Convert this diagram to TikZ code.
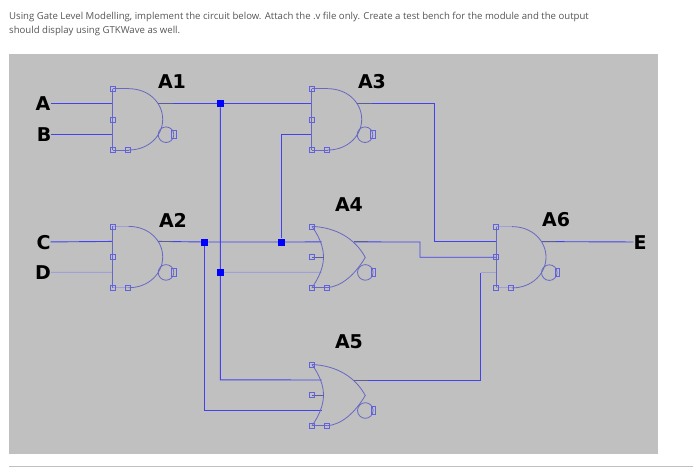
\documentclass[tikz,border=0pt]{standalone}
\usepackage{fontspec}
\setmainfont{Open Sans}
\newfontfamily\lblfont{DejaVu Sans}[BoldFont={DejaVu Sans Bold}]
\usetikzlibrary{backgrounds}
\definecolor{wireblue}{RGB}{66,66,238}
\definecolor{gatecol}{RGB}{104,104,196}
\definecolor{faintcol}{RGB}{160,160,214}
\definecolor{stubcol}{RGB}{92,92,150}
\definecolor{panel}{RGB}{192,192,192}
\definecolor{bodytext}{RGB}{85,85,85}
\tikzset{
  x=1pt,y=-1pt,
  wire/.style={draw=wireblue,line width=0.9pt},
  faintwire/.style={draw=faintcol,line width=0.9pt},
  gateline/.style={draw=gatecol,line width=0.8pt},
  handle/.style={draw=wireblue!75!panel,line width=0.7pt,fill=none},
  junction/.style={fill=blue,draw=none,minimum size=7pt,inner sep=0pt,rectangle},
  sig/.style={font=\lblfont\bfseries\fontsize{19}{19}\selectfont,text=black,inner sep=0pt,text height=14pt,text depth=0pt},
  gatename/.style={font=\lblfont\bfseries\fontsize{19}{19}\selectfont,text=black,inner sep=0pt},
  body/.style={font=\fontsize{9.6}{12}\selectfont,text=bodytext,inner sep=0pt,anchor=base west},
}
% common parts: #1 name, output x offset on the curve
\newcommand{\gatehandles}{%
  \draw[handle] (-2.5,-2.5) rectangle (2.5,2.5);
  \draw[handle] (-2.5,28.2) rectangle (2.5,33.2);
  \draw[handle] (-2.5,58.8) rectangle (2.5,63.8);
  \draw[handle] (12.5,58.8) rectangle (17.5,63.8);
  \draw[gateline] (53.3,46) circle (7.8);
  \draw[handle] (59,42) rectangle (63.5,50);
}
% #1 name, #2 x, #3 y, #4 style of the straight top and bottom edges
\newcommand{\andgate}[4]{%
  \begin{scope}[shift={(#2,#3)}]
    \draw[gateline] (0,0) -- (0,61.3);
    \draw[#4] (0,0) -- (16,0);
    \draw[#4] (0,61.3) -- (16,61.3);
    \draw[gateline] (16,0) .. controls (36,0) and (50,14) .. (50,30.6)
      .. controls (50,47) and (36,61.3) .. (16,61.3);
    \gatehandles
    \draw[draw=stubcol,line width=0.9pt] (45.5,15) -- (60,15);
    \coordinate (#1i1) at (0,15);
    \coordinate (#1i2) at (0,46);
    \coordinate (#1i3) at (0,30.6);
    \coordinate (#1o) at (46,15);
  \end{scope}}
\newcommand{\orgate}[3]{%
  \begin{scope}[shift={(#2,#3)}]
    \draw[gateline] (0,0) .. controls (7,10) and (11.5,20) .. (11.5,30.6)
      .. controls (11.5,41) and (7,51) .. (0,61.3);
    \draw[gateline] (0,0) .. controls (24,1) and (43,12) .. (53.3,31)
      .. controls (43,48) and (30,60) .. (15,61.3);
    \draw[gateline] (0,61.3) -- (15,61.3);
    \draw[draw=stubcol,line width=0.9pt] (0,30.6) -- (11.5,30.6);
    \gatehandles
    \draw[draw=stubcol,line width=0.9pt] (42,15.5) -- (56,15.5);
    \coordinate (#1i1) at (9.5,15.5);
    \coordinate (#1i2) at (9.5,46);
    \coordinate (#1o) at (42,15.5);
  \end{scope}}
\begin{document}
\begin{tikzpicture}
\useasboundingbox (0,0) rectangle (693,467);
% gates
\andgate{aa}{112.7}{88.7}{gateline}
\andgate{ab}{112.7}{226.4}{faintwire}
\andgate{ac}{311.7}{88.7}{gateline}
\orgate{ad}{312}{226.4}
\orgate{ae}{312}{364.5}
\andgate{af}{496}{226.6}{faintwire}
% terminals
\node[sig] (A) at (43,103.7) {A};
\node[sig] (B) at (44,134.7) {B};
\node[sig] (C) at (43.5,242) {C};
\node[sig] (D) at (43,272.3) {D};
\node[sig] (E) at (640,242) {E};
% junctions
\node[junction] (j1) at (220.3,103.7) {};
\node[junction] (j2) at (204.7,242) {};
\node[junction] (j3) at (220.3,272.3) {};
\node[junction] (j4) at (281.5,242) {};
\coordinate (c1) at (220.3,379.8);
\coordinate (c2) at (204.7,410.5);
\coordinate (c3) at (281.5,134.7);
\coordinate (c4) at (434.7,103.7);
\coordinate (c5) at (434.7,241.6);
\coordinate (c6) at (420,242);
\coordinate (c7) at (420,257.2);
\coordinate (c8) at (480.7,272.6);
\coordinate (c9) at (480.7,380);
% gate names
\node[gatename] (na) at (172,82) {A1};
\node[gatename] (nb) at (173,220) {A2};
\node[gatename] (nc) at (372,82) {A3};
\node[gatename] (nd) at (349,205) {A4};
\node[gatename] (ne) at (349,342) {A5};
\node[gatename] (nf) at (556,220) {A6};
% page text
\node[body] (t1) at (9,19) {Using Gate Level Modelling, implement the circuit below. Attach the .v file only. Create a test bench for the module and the output};
\node[body] (t2) at (9,33) {should display using GTKWave as well.};
\begin{scope}[on background layer]
  \fill[panel] (9,54) rectangle (658,454);
  \draw[draw=panel,line width=1pt] (9,466) -- (693,466);
  \draw[wire] (A) -- (aai1);
  \draw[wire] (B) -- (aai2);
  \draw[wire] (C) -- (abi1);
  \draw[faintwire] (D) -- (abi2);
  \draw[wire] (aao) -- (j1) -- (aci1);
  \draw[wire] (j1) -- (c1) -- (aei1);
  \draw[wire] (abo) -- (j2) -- (j4) -- (adi1);
  \draw[wire] (j2) -- (c2) -- (aei2);
  \draw[wire] (j4) -- (c3) -- (aci2);
  \draw[faintwire] (j3) -- (adi2);
  \draw[wire] (aco) -- (c4) -- (c5) -- (afi1);
  \draw[wire] (ado) -- (c6) -- (c7) -- (afi3);
  \draw[faintwire] (afi2) -- (c8);
  \draw[wire] (c8) -- (c9) -- (aeo);
  \draw[wire] (afo) -- (E);
\end{scope}
\end{tikzpicture}
\end{document}
